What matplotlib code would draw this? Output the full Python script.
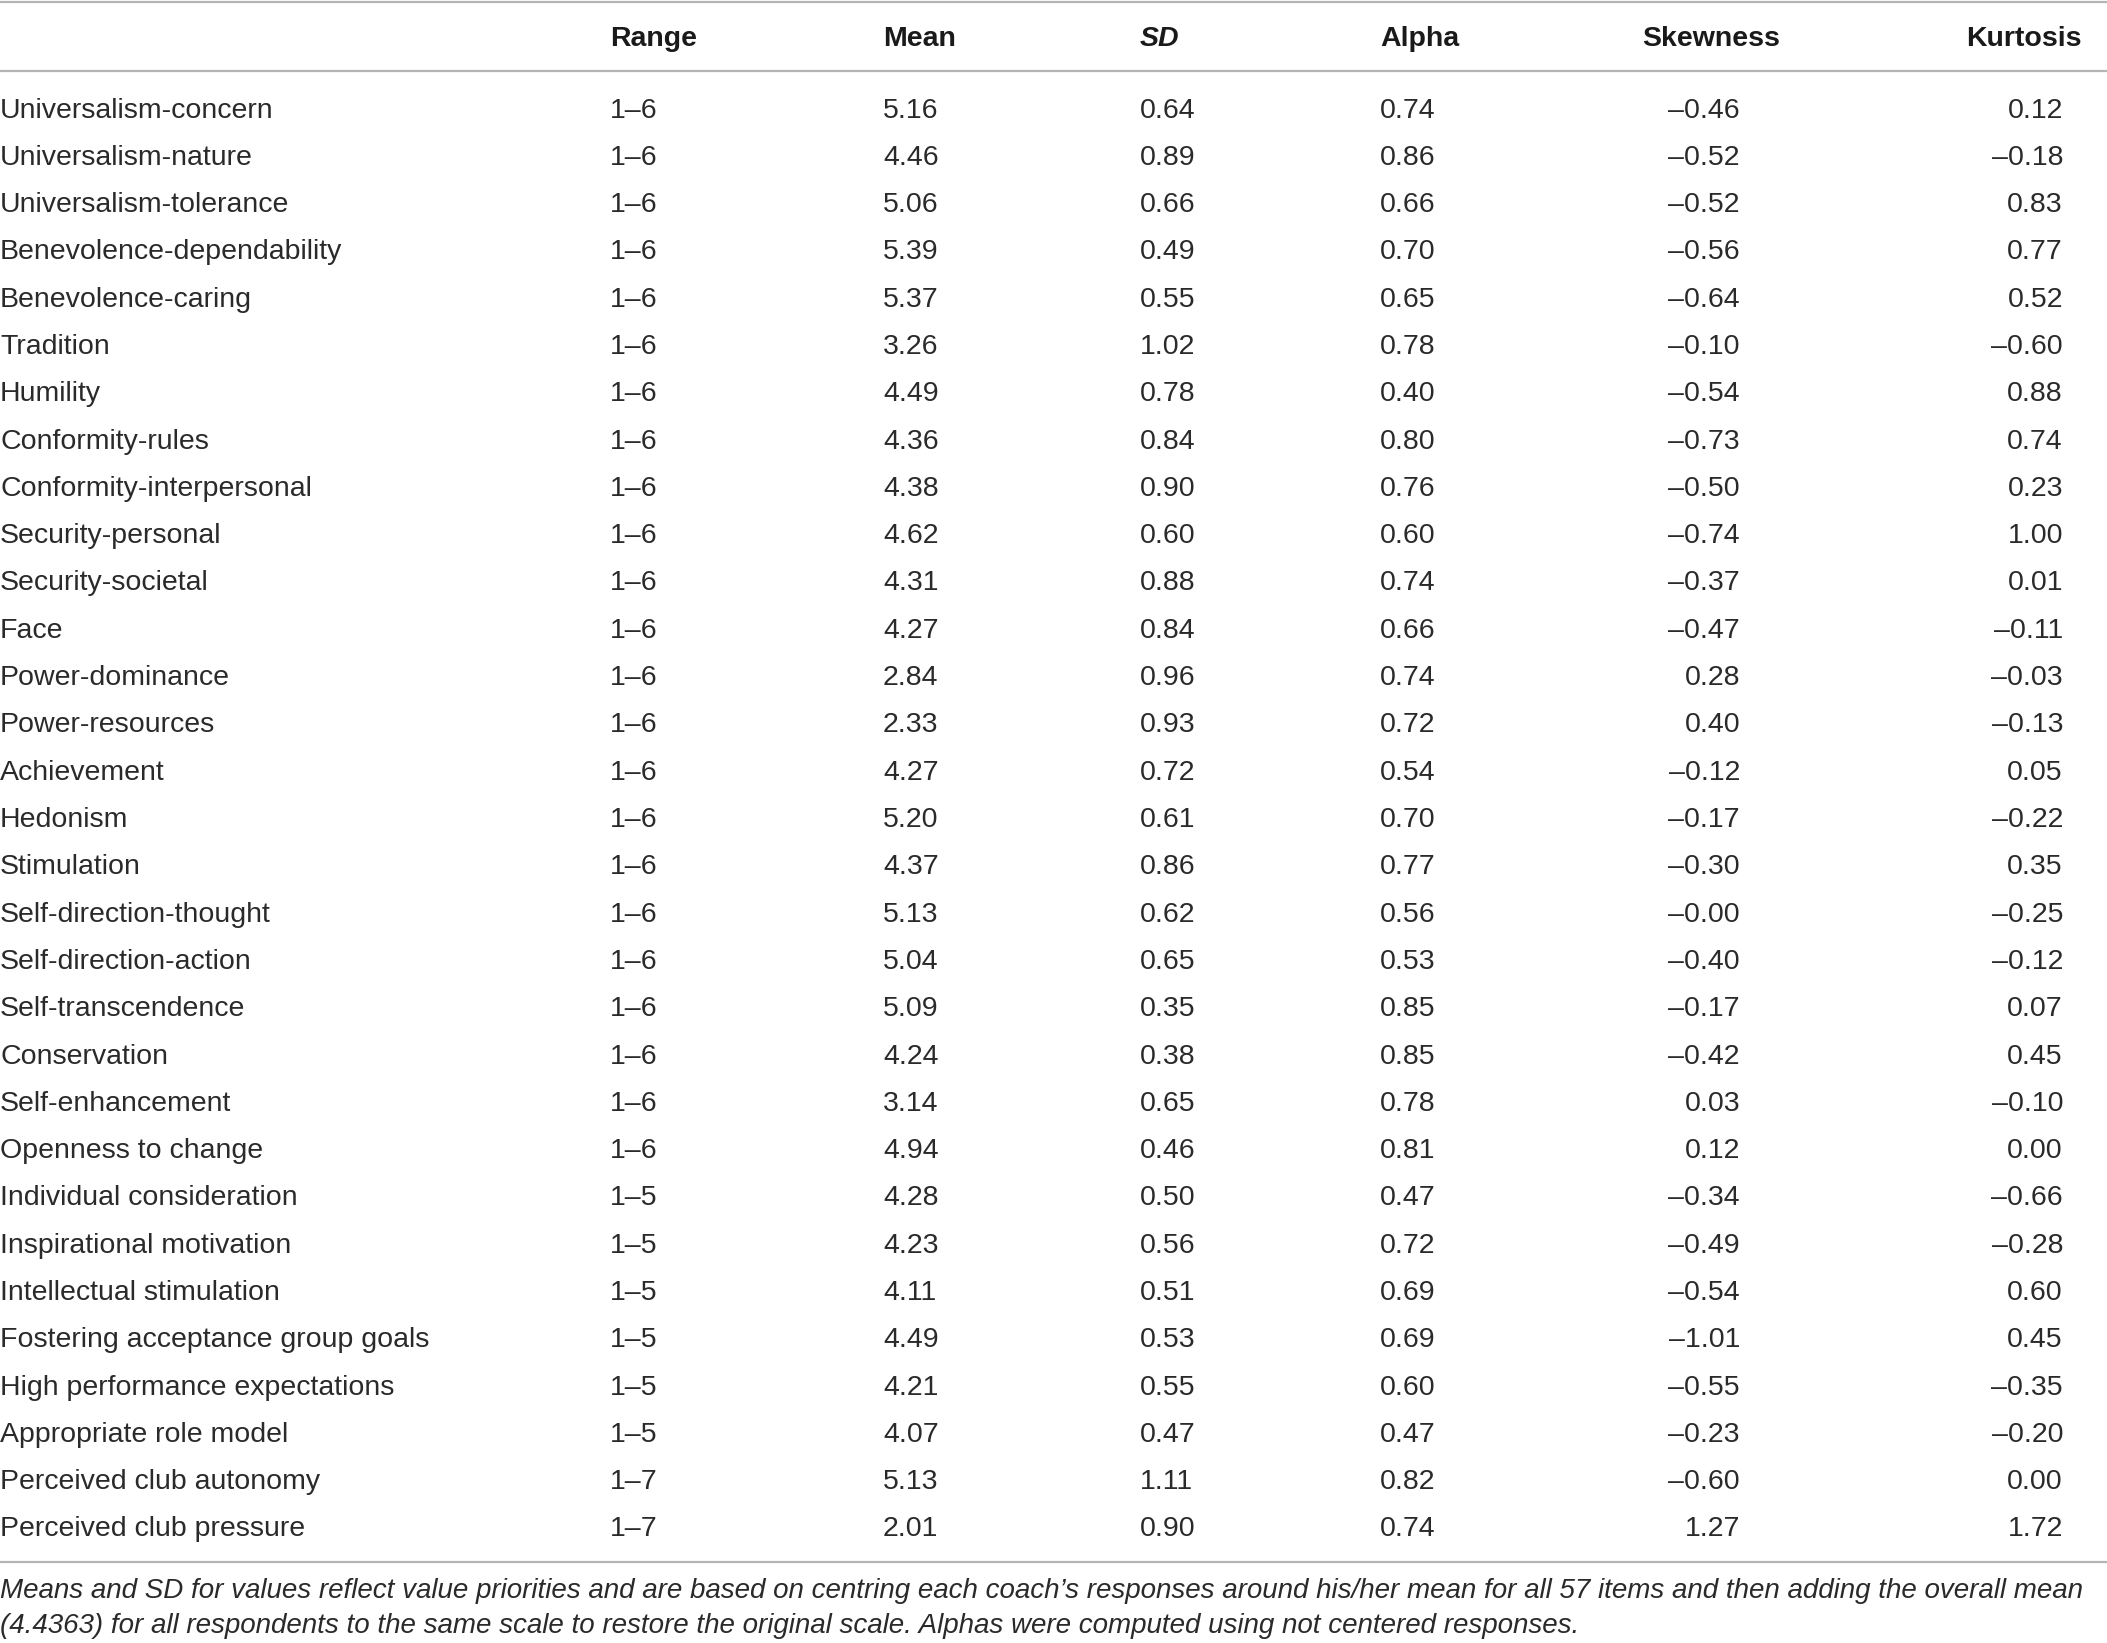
import matplotlib.pyplot as plt

plt.rcParams['font.family'] = ['Liberation Sans', 'DejaVu Sans']

variables = ['Universalism-concern', 'Universalism-nature', 'Universalism-tolerance',
             'Benevolence-dependability', 'Benevolence-caring', 'Tradition', 'Humility',
             'Conformity-rules', 'Conformity-interpersonal', 'Security-personal',
             'Security-societal', 'Face', 'Power-dominance', 'Power-resources',
             'Achievement', 'Hedonism', 'Stimulation', 'Self-direction-thought',
             'Self-direction-action', 'Self-transcendence', 'Conservation',
             'Self-enhancement', 'Openness to change', 'Individual consideration',
             'Inspirational motivation', 'Intellectual stimulation',
             'Fostering acceptance group goals', 'High performance expectations',
             'Appropriate role model', 'Perceived club autonomy', 'Perceived club pressure']
ranges = ['1–6'] * 23 + ['1–5'] * 6 + ['1–7'] * 2
means = ['5.16', '4.46', '5.06', '5.39', '5.37', '3.26', '4.49', '4.36', '4.38', '4.62',
         '4.31', '4.27', '2.84', '2.33', '4.27', '5.20', '4.37', '5.13', '5.04', '5.09',
         '4.24', '3.14', '4.94', '4.28', '4.23', '4.11', '4.49', '4.21', '4.07', '5.13', '2.01']
sds = ['0.64', '0.89', '0.66', '0.49', '0.55', '1.02', '0.78', '0.84', '0.90', '0.60',
       '0.88', '0.84', '0.96', '0.93', '0.72', '0.61', '0.86', '0.62', '0.65', '0.35',
       '0.38', '0.65', '0.46', '0.50', '0.56', '0.51', '0.53', '0.55', '0.47', '1.11', '0.90']
alphas = ['0.74', '0.86', '0.66', '0.70', '0.65', '0.78', '0.40', '0.80', '0.76', '0.60',
          '0.74', '0.66', '0.74', '0.72', '0.54', '0.70', '0.77', '0.56', '0.53', '0.85',
          '0.85', '0.78', '0.81', '0.47', '0.72', '0.69', '0.69', '0.60', '0.47', '0.82', '0.74']
skewness = ['–0.46', '–0.52', '–0.52', '–0.56', '–0.64', '–0.10', '–0.54', '–0.73', '–0.50',
            '–0.74', '–0.37', '–0.47', '0.28', '0.40', '–0.12', '–0.17', '–0.30', '–0.00',
            '–0.40', '–0.17', '–0.42', '0.03', '0.12', '–0.34', '–0.49', '–0.54', '–1.01',
            '–0.55', '–0.23', '–0.60', '1.27']
kurtosis = ['0.12', '–0.18', '0.83', '0.77', '0.52', '–0.60', '0.88', '0.74', '0.23', '1.00',
            '0.01', '–0.11', '–0.03', '–0.13', '0.05', '–0.22', '0.35', '–0.25', '–0.12',
            '0.07', '0.45', '–0.10', '0.00', '–0.66', '–0.28', '0.60', '0.45', '–0.35',
            '–0.20', '0.00', '1.72']
note = ('Means and SD for values reflect value priorities and are based on centring each coach’s '
        'responses around his/her mean for all 57 items and then adding the overall mean\n'
        '(4.4363) for all respondents to the same scale to restore the original scale. '
        'Alphas were computed using not centered responses.')

W, H = 2107, 1643
fig = plt.figure(figsize=(W / 100, H / 100), dpi=100)
ax = fig.add_axes([0, 0, 1, 1])
ax.set_xlim(0, W)
ax.set_ylim(H, 0)
ax.axis('off')

fs = 20.5
txt = '#2a2a2a'
line_col = '#b4b4b4'

# horizontal rules
for yl in [1.5, 71, 1562]:
    ax.axhline(yl, color=line_col, lw=1.6)

# header
hy = 39
hd = dict(fontsize=fs, fontweight='bold', color='#1a1a1a', va='center')
ax.text(610, hy, 'Range', ha='left', **hd)
ax.text(883, hy, 'Mean', ha='left', **hd)
ax.text(1140, hy, 'SD', ha='left', style='italic', **hd)
ax.text(1380, hy, 'Alpha', ha='left', **hd)
ax.text(1711, hy, 'Skewness', ha='center', **hd)
ax.text(2082, hy, 'Kurtosis', ha='right', **hd)

# body rows
y0, dy = 110.5, 47.3
bd = dict(fontsize=fs, color=txt, va='center')
for i in range(len(variables)):
    y = y0 + i * dy
    ax.text(0, y, variables[i], ha='left', **bd)
    ax.text(610, y, ranges[i], ha='left', **bd)
    ax.text(883, y, means[i], ha='left', **bd)
    ax.text(1140, y, sds[i], ha='left', **bd)
    ax.text(1380, y, alphas[i], ha='left', **bd)
    ax.text(1740, y, skewness[i], ha='right', **bd)
    ax.text(2063, y, kurtosis[i], ha='right', **bd)

# footnote
ax.text(0, 1578, note, ha='left', va='top', fontsize=20, style='italic', color=txt,
        linespacing=1.46)

fig.savefig('out.png', dpi=100)
